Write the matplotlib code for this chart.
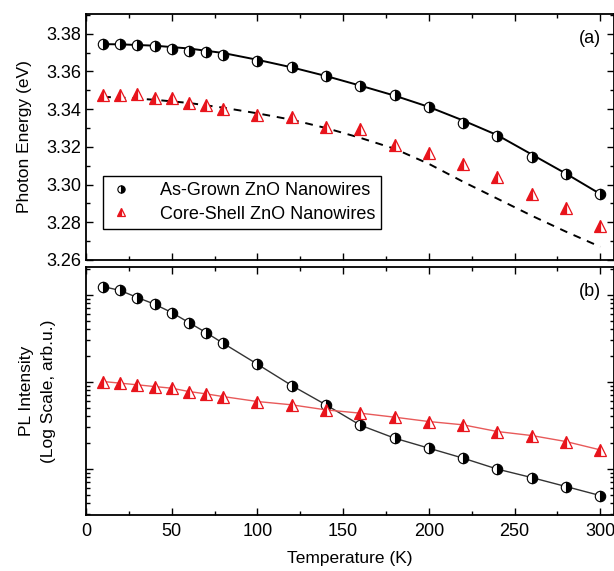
import numpy as np
import matplotlib
matplotlib.use("Agg")
import matplotlib.pyplot as plt
from matplotlib.ticker import MultipleLocator, LogLocator, NullFormatter, FormatStrFormatter

plt.rcParams['font.family'] = ['Liberation Sans', 'DejaVu Sans']

# ---- data ----
temps = [10, 20, 30, 40, 50, 60, 70, 80, 100, 120, 140, 160, 180, 200, 220, 240, 260, 280, 300]

energy_asgrown = [3.3744, 3.3744, 3.3740, 3.3735, 3.3720, 3.3710, 3.3703, 3.3687, 3.3655, 3.3622,
                  3.3576, 3.3524, 3.3475, 3.3413, 3.3328, 3.3257, 3.3148, 3.3056, 3.2950]
energy_coreshell = [3.3475, 3.3475, 3.3480, 3.3460, 3.3460, 3.3431, 3.3420, 3.3400, 3.3367, 3.3360,
                    3.3307, 3.3293, 3.3210, 3.3166, 3.3107, 3.3041, 3.2948, 3.2874, 3.2782]

fit_temps = [10, 20, 40, 60, 80, 100, 120, 140, 160, 180, 200, 220, 240, 260, 280, 300]
fit_asgrown = [3.3745, 3.3744, 3.3737, 3.3722, 3.3698, 3.3662, 3.3622, 3.3576, 3.3525, 3.3472,
               3.3412, 3.3340, 3.3262, 3.3160, 3.3058, 3.2950]
fit_coreshell = [3.3465, 3.3462, 3.3450, 3.3433, 3.3408, 3.3378, 3.3344, 3.3300, 3.3248, 3.3190,
                 3.3110, 3.3015, 3.2925, 3.2835, 3.2750, 3.2670]

log_pl_asgrown = [2.095, 2.050, 1.969, 1.893, 1.797, 1.682, 1.567, 1.444, 1.203, 0.958,
                  0.736, 0.502, 0.353, 0.238, 0.123, -0.003, -0.100, -0.203, -0.307]
log_pl_coreshell = [1.004, 0.985, 0.966, 0.946, 0.927, 0.889, 0.862, 0.831, 0.774, 0.736,
                    0.678, 0.640, 0.594, 0.544, 0.506, 0.429, 0.383, 0.314, 0.218]

label_asgrown = "As-Grown ZnO Nanowires"
label_coreshell = "Core-Shell ZnO Nanowires"

pl_asgrown = 10 ** np.array(log_pl_asgrown)
pl_coreshell = 10 ** np.array(log_pl_coreshell)

red = '#e8141c'
fs = 13
fs_lab = 12.5

fig = plt.figure(figsize=(6.14, 5.71), dpi=100)
ax1 = fig.add_axes([0.140, 0.5447, 1.0 - 0.140, 0.9755 - 0.5447])
ax2 = fig.add_axes([0.140, 0.0981, 1.0 - 0.140, 0.5324 - 0.0981])

circ_kw = dict(marker='o', markersize=7.5, fillstyle='right', markerfacecolor='black',
               markerfacecoloralt='white', markeredgecolor='black', markeredgewidth=0.8)
tri_kw = dict(marker='^', markersize=8, fillstyle='left', markerfacecolor=red,
              markerfacecoloralt='white', markeredgecolor=red, markeredgewidth=0.9)

# top panel
ax1.plot(fit_temps, fit_asgrown, color='black', lw=1.4, zorder=2)
ax1.plot(fit_temps, fit_coreshell, color='black', lw=1.4, ls=(0, (4, 3.5)), zorder=2)
ax1.plot(temps, energy_asgrown, ls='none', label=label_asgrown, zorder=3, **circ_kw)
ax1.plot(temps, energy_coreshell, ls='none', label=label_coreshell, zorder=3, **tri_kw)

ax1.set_xlim(0, 308)
ax1.set_ylim(3.26, 3.3905)
ax1.yaxis.set_major_locator(MultipleLocator(0.02))
ax1.yaxis.set_minor_locator(MultipleLocator(0.01))
ax1.xaxis.set_major_locator(MultipleLocator(50))
ax1.xaxis.set_minor_locator(MultipleLocator(25))
ax1.yaxis.set_major_formatter(FormatStrFormatter('%.2f'))
ax1.tick_params(axis='x', labelbottom=False)
ax1.set_ylabel('Photon Energy (eV)', fontsize=fs_lab, labelpad=10)
ax1.text(0.955, 0.9, '(a)', transform=ax1.transAxes, fontsize=fs, ha='center', va='center')

leg = ax1.legend(loc='lower left', bbox_to_anchor=(0.032, 0.126), fontsize=fs, frameon=True,
                 fancybox=False, edgecolor='black', framealpha=1, handlelength=1.3,
                 handletextpad=1.5, borderpad=0.35, labelspacing=0.35, markerscale=0.7,
                 borderaxespad=0)
leg.get_frame().set_linewidth(1.0)

# bottom panel
ax2.plot(temps, pl_asgrown, color='#333333', lw=1.0, zorder=2, **circ_kw)
ax2.plot(temps, pl_coreshell, color='#e85a5a', lw=1.0, zorder=2, **tri_kw)
ax2.set_yscale('log')
ax2.set_xlim(0, 308)
ax2.set_ylim(10 ** -0.53, 10 ** 2.32)
ax2.xaxis.set_major_locator(MultipleLocator(50))
ax2.xaxis.set_minor_locator(MultipleLocator(25))
ax2.yaxis.set_major_locator(LogLocator(base=10, numticks=10))
ax2.yaxis.set_minor_locator(LogLocator(base=10, subs=np.arange(2, 10), numticks=20))
ax2.yaxis.set_major_formatter(NullFormatter())
ax2.yaxis.set_minor_formatter(NullFormatter())
ax2.set_ylabel('PL Intensity\n(Log Scale, arb.u.)', fontsize=fs_lab, labelpad=18, linespacing=1.55)
ax2.set_xlabel('Temperature (K)', fontsize=fs_lab, labelpad=8)
ax2.text(0.955, 0.9, '(b)', transform=ax2.transAxes, fontsize=fs, ha='center', va='center')

for ax in (ax1, ax2):
    ax.tick_params(which='both', direction='in', top=True, right=True, labelsize=fs, width=1.0)
    ax.tick_params(which='major', length=5)
    ax.tick_params(which='minor', length=3)
    for s in ax.spines.values():
        s.set_linewidth(1.3)
ax2.tick_params(axis='x', pad=6)

fig.savefig('out.png', dpi=100)
